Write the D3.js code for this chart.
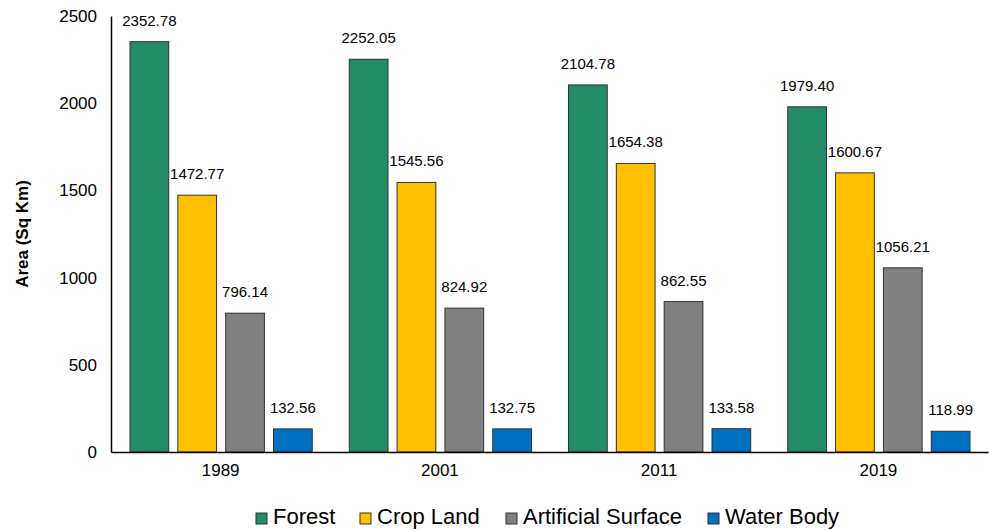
<!DOCTYPE html>
<html lang="en">
<head>
  <meta charset="UTF-8">
  <title>Land cover area</title>
  <script src="https://unpkg.com/d3@7/dist/d3.min.js"></script>
  <style>
    body { margin: 0; background: #fff; }
    svg text { font-family: "Liberation Sans", Arial, sans-serif; fill: #000; }
  </style>
</head>
<body>
  <svg id="chart" width="989" height="530"></svg>
  <script>
    // data
    const years = ['1989', '2001', '2011', '2019'];
    const classes = ['Forest', 'Crop Land', 'Artificial Surface', 'Water Body'];
    const forest = [2352.78, 2252.05, 2104.78, 1979.40];
    const cropLand = [1472.77, 1545.56, 1654.38, 1600.67];
    const artificial = [796.14, 824.92, 862.55, 1056.21];
    const water = [132.56, 132.75, 133.58, 118.99];
    const yTicks = [0, 500, 1000, 1500, 2000, 2500];

    const colors = ['#238B66', '#FFC000', '#808080', '#0070C0'];
    const seriesValues = [forest, cropLand, artificial, water];

    const rows = years.map((yr, i) => ({
      year: yr,
      values: classes.map((c, j) => ({ cls: c, value: seriesValues[j][i] }))
    }));

    const svg = d3.select('#chart');
    const plot = { left: 111, right: 988, top: 16, bottom: 452 };

    const x0 = d3.scaleBand()
      .domain(years)
      .range([plot.left, plot.right]);

    const x1 = d3.scaleBand()
      .domain(classes)
      .range([19, x0.bandwidth() - 18])
      .paddingInner(0.19);

    const y = d3.scaleLinear()
      .domain([0, 2500])
      .range([plot.bottom, plot.top]);

    const color = d3.scaleOrdinal().domain(classes).range(colors);

    // y axis
    const yAxis = svg.append('g')
      .attr('transform', `translate(${plot.left},0)`)
      .call(d3.axisLeft(y).tickValues(yTicks).tickFormat(d3.format('d')).tickSize(0).tickPadding(14));
    yAxis.select('.domain').attr('stroke', '#000').attr('stroke-width', 1.5);
    yAxis.selectAll('text').style('font-size', '17px');

    svg.append('text')
      .attr('transform', `translate(28, ${(plot.top + plot.bottom) / 2}) rotate(-90)`)
      .attr('text-anchor', 'middle')
      .style('font-size', '17px')
      .style('font-weight', 'bold')
      .text('Area (Sq Km)');

    // bars
    const groups = svg.append('g').selectAll('g').data(rows)
      .join('g')
        .attr('transform', d => `translate(${x0(d.year)},0)`);

    groups.selectAll('rect').data(d => d.values)
      .join('rect')
        .attr('x', d => x1(d.cls))
        .attr('y', d => y(d.value))
        .attr('width', x1.bandwidth())
        .attr('height', d => plot.bottom - y(d.value))
        .attr('fill', d => color(d.cls))
        .attr('stroke', '#333')
        .attr('stroke-width', 1);

    groups.selectAll('text.val').data(d => d.values)
      .join('text')
        .attr('class', 'val')
        .attr('x', d => x1(d.cls) + x1.bandwidth() / 2)
        .attr('y', d => y(d.value) - 16)
        .attr('text-anchor', 'middle')
        .style('font-size', '15px')
        .text(d => d.value.toFixed(2));

    // x axis
    const xAxis = svg.append('g')
      .attr('transform', `translate(0,${plot.bottom})`)
      .call(d3.axisBottom(x0).tickSize(0).tickPadding(12));
    xAxis.select('.domain').attr('stroke', '#000').attr('stroke-width', 1.5);
    xAxis.selectAll('text').style('font-size', '17px');

    // legend
    const legendX = [256, 360, 506, 708];
    const legend = svg.append('g').selectAll('g').data(classes)
      .join('g')
        .attr('transform', (d, i) => `translate(${legendX[i]}, 513)`);
    legend.append('rect')
      .attr('width', 11)
      .attr('height', 11)
      .attr('fill', d => color(d))
      .attr('stroke', '#333')
      .attr('stroke-width', 1);
    legend.append('text')
      .attr('x', 17)
      .attr('y', 11)
      .style('font-size', '22px')
      .text(d => d);
  </script>
</body>
</html>
